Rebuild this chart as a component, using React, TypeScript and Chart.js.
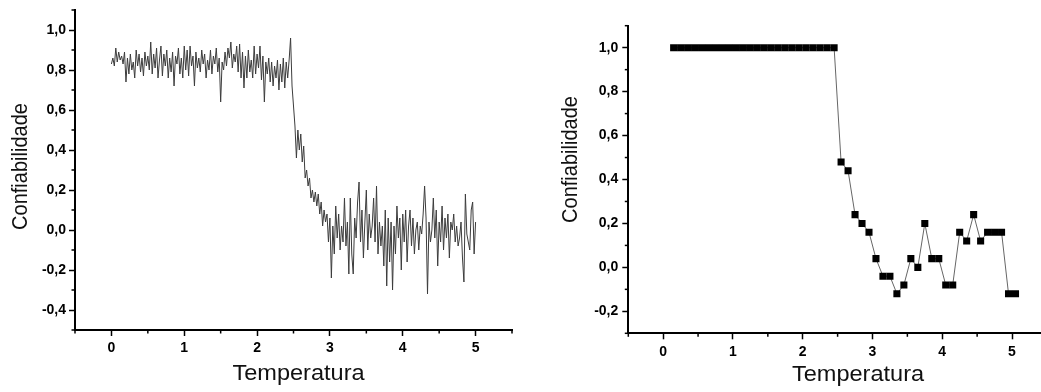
import React, { useEffect, useRef } from 'react';
import { Chart, registerables } from 'chart.js';

Chart.register(...registerables);

const FONT = '"Liberation Sans", Arial, Helvetica, sans-serif';

// ---------- Left chart data (Temperatura from 0 to 5, step 0.02) ----------
const leftStart = 0;
const leftStep = 0.02;
// x = 0.00 .. 2.46
const leftPlateau = [
  0.83, 0.86, 0.82, 0.91, 0.84, 0.89, 0.85, 0.87, 0.83, 0.89,
  0.74, 0.86, 0.78, 0.88, 0.80, 0.84, 0.76, 0.90, 0.82, 0.88,
  0.79, 0.86, 0.77, 0.89, 0.82, 0.87, 0.80, 0.94, 0.78, 0.88,
  0.81, 0.91, 0.76, 0.85, 0.92, 0.77, 0.88, 0.82, 0.90, 0.76,
  0.86, 0.79, 0.89, 0.72, 0.87, 0.83, 0.91, 0.78, 0.86, 0.76,
  0.92, 0.80, 0.90, 0.77, 0.92, 0.82, 0.87, 0.72, 0.89, 0.81,
  0.86, 0.79, 0.90, 0.83, 0.88, 0.76, 0.85, 0.80, 0.90, 0.78,
  0.87, 0.83, 0.91, 0.79, 0.86, 0.64, 0.84, 0.80, 0.89, 0.82,
  0.91, 0.86, 0.94, 0.81, 0.88, 0.84, 0.92, 0.79, 0.93, 0.76,
  0.89, 0.71, 0.87, 0.76, 0.90, 0.79, 0.85, 0.76, 0.92, 0.78,
  0.88, 0.81, 0.92, 0.75, 0.87, 0.64, 0.84, 0.78, 0.86, 0.74,
  0.84, 0.72, 0.82, 0.76, 0.85, 0.70, 0.83, 0.74, 0.86, 0.71,
  0.84, 0.76, 0.85, 0.96,
];
// x = 2.48 .. 3.02
const leftTransition = [
  0.72, 0.62, 0.52, 0.36, 0.50, 0.40, 0.48, 0.34, 0.42, 0.26,
  0.30, 0.22, 0.26, 0.16, 0.20, 0.14, 0.19, 0.12, 0.18, 0.08,
  0.14, 0.02, 0.10, 0.04, 0.08, -0.06, 0.06, -0.24,
];
// x = 3.04 .. 5.00
const leftNoise = [
  0.02, -0.12, 0.12, -0.04, 0.08, -0.10, 0.02, -0.06, 0.16, -0.08,
  0.04, -0.22, 0.16, -0.12, -0.22, 0.06, -0.04, 0.14, 0.24, -0.06,
  0.10, -0.14, 0.04, 0.20, -0.10, 0.08, -0.04, 0.02, 0.16, -0.06,
  0.22, -0.12, 0.04, -0.08, 0.02, -0.18, 0.10, -0.28, 0.06, -0.16,
  0.04, -0.30, 0.02, -0.12, 0.12, -0.04, 0.06, -0.20, 0.08, -0.06,
  0.10, -0.16, 0.02, 0.10, -0.08, 0.06, -0.12, 0.00, 0.04, -0.10,
  0.02, -0.02, 0.08, 0.22, 0.06, -0.32, 0.04, -0.06, 0.00, 0.16,
  -0.04, 0.10, -0.18, 0.04, -0.06, 0.12, -0.10, 0.06, -0.04, 0.08,
  -0.14, 0.04, 0.00, 0.08, -0.06, 0.02, -0.08, -0.04, 0.04, -0.14,
  -0.26, 0.18, -0.02, -0.06, -0.10, 0.10, 0.14, -0.12, 0.04,
];
const leftValues = [...leftPlateau, ...leftTransition, ...leftNoise];

const leftYTicks = [-0.4, -0.2, 0.0, 0.2, 0.4, 0.6, 0.8, 1.0];
const leftYMinor = [-0.5, -0.3, -0.1, 0.1, 0.3, 0.5, 0.7, 0.9, 1.1];

// ---------- Right chart data ----------
const rightX = [
  0.15, 0.25, 0.35, 0.45, 0.55, 0.65, 0.75, 0.85, 0.95, 1.05,
  1.15, 1.25, 1.35, 1.45, 1.55, 1.65, 1.75, 1.85, 1.95, 2.05,
  2.15, 2.25, 2.35, 2.45, 2.55, 2.65, 2.75, 2.85, 2.95, 3.05,
  3.15, 3.25, 3.35, 3.45, 3.55, 3.65, 3.75, 3.85, 3.95, 4.05,
  4.15, 4.25, 4.35, 4.45, 4.55, 4.65, 4.75, 4.85, 4.95, 5.05,
];
const rightY = [
  1.0, 1.0, 1.0, 1.0, 1.0, 1.0, 1.0, 1.0, 1.0, 1.0,
  1.0, 1.0, 1.0, 1.0, 1.0, 1.0, 1.0, 1.0, 1.0, 1.0,
  1.0, 1.0, 1.0, 1.0, 0.48, 0.44, 0.24, 0.20, 0.16, 0.04,
  -0.04, -0.04, -0.12, -0.08, 0.04, 0.00, 0.20, 0.04, 0.04, -0.08,
  -0.08, 0.16, 0.12, 0.24, 0.12, 0.16, 0.16, 0.16, -0.12, -0.12,
];
const rightYTicks = [-0.2, 0.0, 0.2, 0.4, 0.6, 0.8, 1.0];
const rightYMinor = [-0.3, -0.1, 0.1, 0.3, 0.5, 0.7, 0.9, 1.1];

const xTicks = [0, 1, 2, 3, 4, 5];
const xMinor = [-0.5, 0.5, 1.5, 2.5, 3.5, 4.5, 5.5];

const xTitle = 'Temperatura';
const yTitle = 'Confiabilidade';

// ---------- plugins ----------
const minorTicksPlugin = {
  id: 'minorTicks',
  afterDraw(chart: any, _args: any, opts: any) {
    const ctx = chart.ctx;
    const xs = chart.scales.x;
    const ys = chart.scales.y;
    ctx.save();
    ctx.strokeStyle = '#000';
    ctx.lineWidth = opts.width || 1.5;
    const len = opts.length || 3;
    (opts.x || []).forEach((v: number) => {
      const px = xs.getPixelForValue(v);
      ctx.beginPath();
      ctx.moveTo(px, xs.top);
      ctx.lineTo(px, xs.top + len);
      ctx.stroke();
    });
    (opts.y || []).forEach((v: number) => {
      const py = ys.getPixelForValue(v);
      ctx.beginPath();
      ctx.moveTo(ys.right, py);
      ctx.lineTo(ys.right - len, py);
      ctx.stroke();
    });
    ctx.restore();
  },
};

const axisTitlesPlugin = {
  id: 'axisTitles',
  afterDraw(chart: any, _args: any, opts: any) {
    const ctx = chart.ctx;
    const k = opts.stretch || 1;
    ctx.save();
    ctx.fillStyle = '#111';
    ctx.textAlign = 'center';
    ctx.textBaseline = 'middle';
    ctx.font = `${opts.xSize}px ${FONT}`;
    ctx.save();
    ctx.translate(opts.xPos[0], opts.xPos[1]);
    ctx.scale(k, 1);
    ctx.fillText(opts.xText, 0, 0);
    ctx.restore();
    ctx.save();
    ctx.font = `${opts.ySize}px ${FONT}`;
    ctx.translate(opts.yPos[0], opts.yPos[1]);
    ctx.scale(k, 1);
    ctx.rotate(-Math.PI / 2);
    ctx.fillText(opts.yText, 0, 0);
    ctx.restore();
    ctx.restore();
  },
};

const fmt = (v: any) => Number(v).toFixed(1).replace('.', ',');

function makeScales(cfg: {
  yMin: number; yMax: number; yTicks: number[]; yWidth: number; xHeight: number;
  tickLen: number; xPad: number; yPad: number;
}) {
  const tickFont = { family: FONT, size: 14, weight: 'bold' as const };
  return {
    x: {
      type: 'linear' as const,
      min: -0.5,
      max: 5.5,
      afterBuildTicks: (s: any) => { s.ticks = xTicks.map((v) => ({ value: v })); },
      afterFit: (s: any) => { s.height = cfg.xHeight; s.paddingLeft = 0; s.paddingRight = 0; },
      border: { display: true, color: '#000', width: 2 },
      grid: {
        display: true, drawOnChartArea: false, drawTicks: true,
        tickLength: cfg.tickLen, tickColor: '#000', tickWidth: 1.5, color: '#000',
      },
      ticks: {
        color: '#000', font: tickFont, padding: cfg.xPad, maxRotation: 0, autoSkip: false,
        callback: (v: any) => String(v),
      },
    },
    y: {
      type: 'linear' as const,
      min: cfg.yMin,
      max: cfg.yMax,
      afterBuildTicks: (s: any) => { s.ticks = cfg.yTicks.map((v) => ({ value: v })); },
      afterFit: (s: any) => { s.width = cfg.yWidth; s.paddingTop = 0; s.paddingBottom = 0; },
      border: { display: true, color: '#000', width: 2 },
      grid: {
        display: true, drawOnChartArea: false, drawTicks: true,
        tickLength: cfg.tickLen, tickColor: '#000', tickWidth: 1.5, color: '#000',
      },
      ticks: {
        color: '#000', font: tickFont, padding: cfg.yPad, autoSkip: false,
        callback: fmt,
      },
    },
  };
}

function LeftChart() {
  const ref = useRef<HTMLCanvasElement>(null);
  useEffect(() => {
    if (!ref.current) return;
    const data = leftValues.map((y, i) => ({ x: leftStart + i * leftStep, y }));
    const chart = new Chart(ref.current, {
      type: 'line',
      data: {
        datasets: [{
          data,
          borderColor: '#3c3c3c',
          borderWidth: 1,
          pointRadius: 0,
          tension: 0,
          fill: false,
        }],
      },
      options: {
        responsive: false,
        animation: false,
        layout: { padding: { top: 10, right: 8, left: 0, bottom: 0 } },
        scales: makeScales({
          yMin: -0.5, yMax: 1.1, yTicks: leftYTicks, yWidth: 75, xHeight: 62,
          tickLen: 6, xPad: 4, yPad: 3,
        }) as any,
        plugins: {
          legend: { display: false },
          tooltip: { enabled: false },
          minorTicks: { x: xMinor, y: leftYMinor, length: 3.5, width: 1.5 },
          axisTitles: {
            xText: xTitle, yText: yTitle, xSize: 22, ySize: 20, stretch: 1.07,
            xPos: [298.5, 374], yPos: [21, 166.5],
          },
        } as any,
      },
      plugins: [minorTicksPlugin, axisTitlesPlugin],
    });
    return () => chart.destroy();
  }, []);
  return (
    <canvas ref={ref} width={520} height={392}
      style={{ position: 'absolute', left: 0, top: 0, width: 520, height: 392 }} />
  );
}

function RightChart() {
  const ref = useRef<HTMLCanvasElement>(null);
  useEffect(() => {
    if (!ref.current) return;
    const data = rightX.map((x, i) => ({ x, y: rightY[i] }));
    const chart = new Chart(ref.current, {
      type: 'line',
      data: {
        datasets: [{
          data,
          borderColor: '#666',
          borderWidth: 1,
          pointStyle: 'rect',
          pointRadius: 5,
          pointBackgroundColor: '#000',
          pointBorderColor: '#000',
          pointBorderWidth: 0,
          tension: 0,
          fill: false,
        }],
      },
      options: {
        responsive: false,
        animation: false,
        layout: { padding: { top: 25.7, right: 10.1, left: 0, bottom: 0 } },
        scales: makeScales({
          yMin: -0.3, yMax: 1.1, yTicks: rightYTicks, yWidth: 108.3, xHeight: 58.7,
          tickLen: 6, xPad: 4, yPad: 4,
        }) as any,
        plugins: {
          legend: { display: false },
          tooltip: { enabled: false },
          minorTicks: { x: xMinor, y: rightYMinor, length: 3.5, width: 1.5 },
          axisTitles: {
            xText: xTitle, yText: yTitle, xSize: 22, ySize: 20, stretch: 1.07,
            xPos: [338, 375], yPos: [51, 159.5],
          },
        } as any,
      },
      plugins: [minorTicksPlugin, axisTitlesPlugin],
    });
    return () => chart.destroy();
  }, []);
  return (
    <canvas ref={ref} width={537} height={392}
      style={{ position: 'absolute', left: 520, top: 0, width: 537, height: 392 }} />
  );
}

export default function App() {
  return (
    <div style={{
      position: 'fixed', left: 0, top: 0, width: 1041, height: 392,
      overflow: 'hidden', background: '#fff',
    }}>
      <LeftChart />
      <RightChart />
    </div>
  );
}
